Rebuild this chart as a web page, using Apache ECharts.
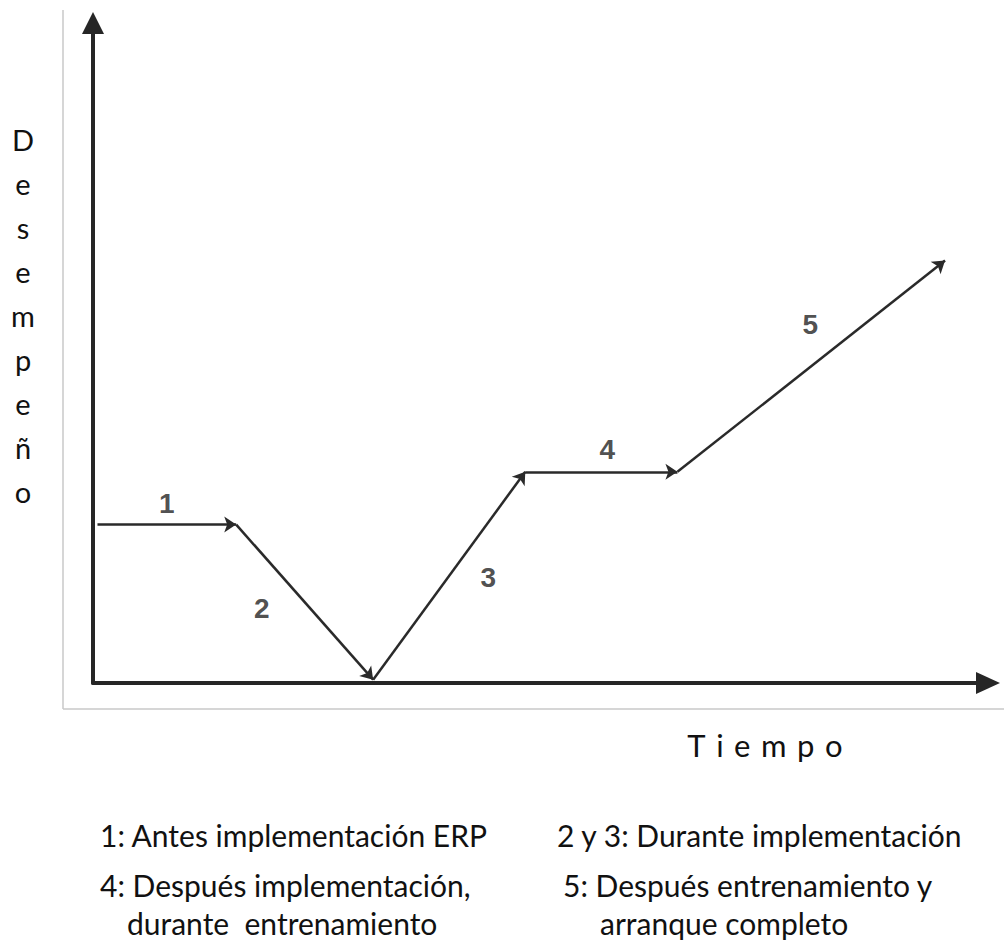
<!DOCTYPE html>
<html>
<head>
<meta charset="utf-8">
<script src="https://cdn.jsdelivr.net/npm/echarts@6/dist/echarts.min.js"></script>
<style>html,body{margin:0;padding:0;background:#fff}#c{width:1004px;height:940px}</style>
</head>
<body>
<div id="c"></div>
<script>
// ---- data (arbitrary units 0..100) ----
const pathX = [0.5, 16.0, 31.3, 48.3, 65.3, 95.2];
const pathY = [24.0, 24.0, 0.5, 32.0, 32.0, 64.0];
const segmentLabels = ['1', '2', '3', '4', '5'];
const axisTitleY = 'Desempeño';
const axisTitleX = 'Tiempo';
const captions = [
  '1: Antes implementación ERP',
  '2 y 3: Durante implementación',
  '4: Después implementación,',
  'durante  entrenamiento',
  '5: Después entrenamiento y',
  'arranque completo'
];

// ---- styles / layout ----
const labelOffsets = [[0, -21], [-43, 6], [39, 2], [6, -22], [-1, -42]];
const captionPos = [[100, 835], [557, 835], [100, 885], [127, 923], [563, 885], [600, 923]];
const ink = '#262626';
const capFont = 'Lato, "Open Sans", sans-serif';

const segments = [];
const mids = [];
for (let i = 0; i < pathX.length - 1; i++) {
  segments.push({ coords: [[pathX[i], pathY[i]], [pathX[i + 1], pathY[i + 1]]] });
  mids.push({
    value: [(pathX[i] + pathX[i + 1]) / 2, (pathY[i] + pathY[i + 1]) / 2],
    label: { offset: labelOffsets[i], formatter: segmentLabels[i] }
  });
}

const chart = echarts.init(document.getElementById('c'), null, { renderer: 'svg' });

const graphics = [
  { type: 'line', shape: { x1: 63, y1: 10, x2: 63, y2: 709 }, style: { stroke: '#c8c8c8', lineWidth: 1.5 }, z: -1 },
  { type: 'line', shape: { x1: 63, y1: 709, x2: 1004, y2: 709 }, style: { stroke: '#c8c8c8', lineWidth: 1.5 }, z: -1 },
  {
    type: 'text', left: 8, top: 117,
    style: {
      text: axisTitleY.split('').join('\n'), font: '29px ' + capFont, fill: '#111',
      lineHeight: 44, textAlign: 'center', width: 30
    }
  },
  {
    type: 'text', x: 686, y: 745,
    style: {
      text: axisTitleX.split('').map(c => '{a|' + c + '}').join(' '),
      font: '31px ' + capFont, fill: '#111', textVerticalAlign: 'middle',
      rich: { a: { font: '31px ' + capFont, fill: '#111', padding: [0, 1.3, 0, 1.3] } }
    }
  }
];
captions.forEach((t, i) => {
  graphics.push({
    type: 'text', x: captionPos[i][0], y: captionPos[i][1],
    style: { text: t, font: '30px ' + capFont, fill: '#111', textVerticalAlign: 'middle' }
  });
});

chart.setOption({
  animation: false,
  backgroundColor: '#fff',
  grid: { left: 93, right: 16, top: 23, bottom: 257 },
  xAxis: {
    type: 'value', min: 0, max: 100,
    axisLine: { onZero: false, symbol: ['none', 'triangle'], symbolSize: [22, 24], symbolOffset: [0, 0], lineStyle: { color: ink, width: 4 } },
    axisTick: { show: false }, axisLabel: { show: false }, splitLine: { show: false }
  },
  yAxis: {
    type: 'value', min: 0, max: 100,
    axisLine: { show: true, onZero: false, symbol: ['none', 'triangle'], symbolSize: [22, 22], symbolOffset: [0, 0], lineStyle: { color: ink, width: 4 } },
    axisTick: { show: false }, axisLabel: { show: false }, splitLine: { show: false }
  },
  series: [
    {
      type: 'lines', coordinateSystem: 'cartesian2d', silent: true,
      symbol: ['none', 'arrow'], symbolSize: [10, 12],
      lineStyle: { color: '#2a2a2a', width: 2.5, opacity: 1 },
      data: segments
    },
    {
      type: 'scatter', symbolSize: 0, silent: true,
      label: { show: true, position: 'inside', color: '#222', fontSize: 28, fontWeight: 'bold', fontFamily: '"Liberation Sans", Arial, sans-serif' },
      data: mids
    }
  ],
  graphic: graphics
});
</script>
</body>
</html>
